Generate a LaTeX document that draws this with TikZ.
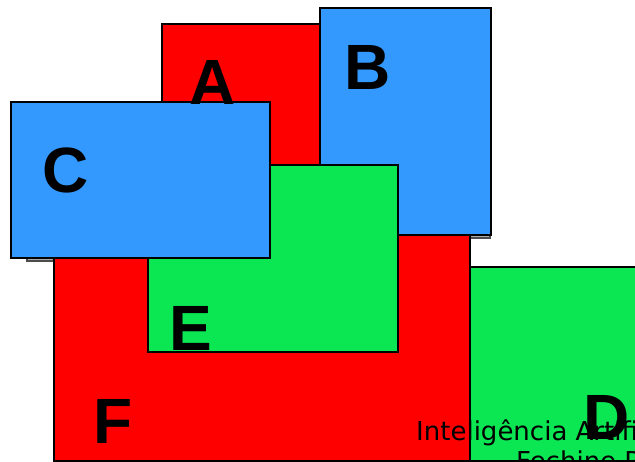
\documentclass[tikz,border=0pt]{standalone}
\usepackage{fontspec}
\setmainfont{Liberation Sans}
\newfontfamily\footfont{DejaVu Sans}
\definecolor{cred}{RGB}{255,0,0}
\definecolor{cblue}{RGB}{51,153,255}
\definecolor{cgreen}{RGB}{11,230,83}
\definecolor{cshadow}{RGB}{170,170,170}
\tikzset{
  box/.style={draw=black, line width=2.4pt},
  shadowbox/.style={draw=black!70, fill=cshadow, line width=1.2pt},
  letter/.style={font=\fontsize{64}{64}\selectfont\bfseries, inner sep=0pt},
  foot/.style={font=\footfont\fontsize{26}{30}\selectfont, inner sep=0pt, anchor=base west}
}
\begin{document}
\begin{tikzpicture}[x=1pt,y=-1pt]
\useasboundingbox (0,0) rectangle (635,462);
\clip (0,0) rectangle (635,462);
% shadows
\draw[shadowbox] (27,106) rectangle (268,261);
\draw[shadowbox] (324,12) rectangle (490,238);
% A
\draw[box, fill=cred] (162,24) rectangle (330,175);
% F
\draw[box, fill=cred] (54,228) rectangle (470,461);
% B
\draw[box, fill=cblue] (320,8) rectangle (491,235);
% E
\draw[box, fill=cgreen] (148,165) rectangle (398,352);
% C
\draw[box, fill=cblue] (11,102) rectangle (270,258);
% D
\draw[box, fill=cgreen] (470,267) rectangle (660,461);
% letters
\node[letter] (la) at (213,82) {A};
\node[letter] (lb) at (368,67) {B};
\node[letter] (lc) at (66,170) {C};
\node[letter] (le) at (191,328) {E};
\node[letter] (lf) at (113,421) {F};
% footer
\node[foot] (t1) at (416,440) {Inteligência Artificial};
\node[foot] (t2) at (516,471) {Fechine P};
\node[letter] (ld) at (607,417) {D};
\end{tikzpicture}
\end{document}
